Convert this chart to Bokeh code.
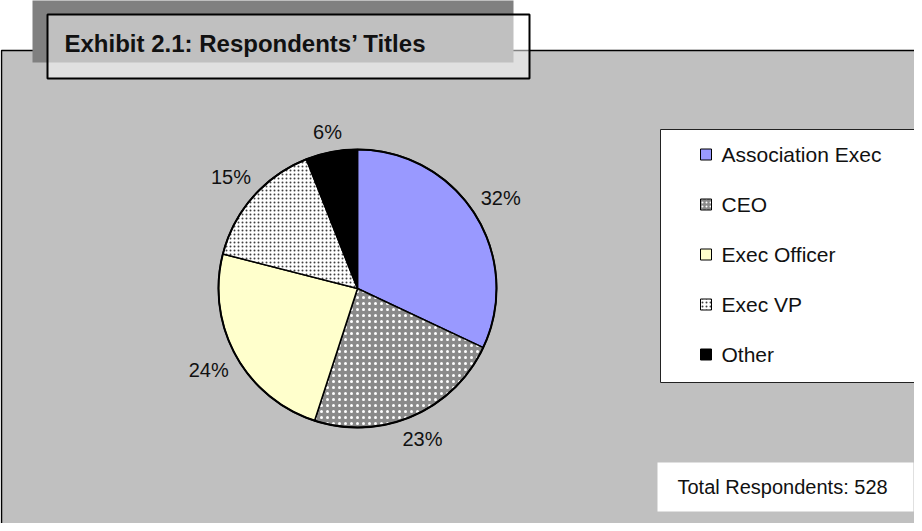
import math
from bokeh.plotting import figure
from bokeh.models import Range1d, ColumnDataSource
from bokeh.core.properties import value
from bokeh.embed import file_html
from bokeh.resources import INLINE

# ---- data ----
categories = ["Association Exec", "CEO", "Exec Officer", "Exec VP", "Other"]
percents = [32, 23, 24, 15, 6]
colors = ["#9999ff", "#8a8a8a", "#ffffcc", "#ffffff", "#000000"]
hatch_patterns = [" ", "dot", " ", "dot", " "]
hatch_colors = ["#000000", "#ffffff", "#000000", "#404040", "#000000"]
title_text = "Exhibit 2.1: Respondents\u2019 Titles"
total_text = "Total Respondents: 528"

W, H = 914, 523


def X(px):
    return px - 8


def Y(py):
    return 531 - py


p = figure(width=W, height=H, x_range=Range1d(0, W), y_range=Range1d(0, H),
           output_backend="svg", toolbar_location=None, min_border=0,
           x_axis_type=None, y_axis_type=None, outline_line_color=None,
           background_fill_color="white", border_fill_color="white")
p.grid.visible = False

# chart panel
p.quad(left=X(9), right=X(940), top=Y(58), bottom=Y(560), fill_color="#c0c0c0",
       line_color="black", line_width=1.5)

# title shadow + title box
p.quad(left=X(40), right=X(521), top=Y(6), bottom=Y(70), fill_color="#808080", line_color=None)
p.quad(left=X(55), right=X(537), top=Y(22), bottom=Y(86), fill_color="white", fill_alpha=0.5,
       line_color="black", line_width=2)
p.text(x=[X(72)], y=[Y(51)], text=[title_text], text_font=value("Liberation Sans"),
       text_font_style="bold", text_font_size="24px", text_baseline="middle",
       text_align="left", text_color="#111111")

# pie
cx, cy, R = X(365), Y(296), 139
total = sum(percents)
starts, ends, mids = [], [], []
c = 0.0
for v in percents:
    f0 = c / total
    c += v
    f1 = c / total
    starts.append(math.pi / 2 - 2 * math.pi * f0)
    ends.append(math.pi / 2 - 2 * math.pi * f1)
    mids.append((f0 + f1) / 2)

src = ColumnDataSource(dict(start=starts, end=ends, color=colors, hp=hatch_patterns,
                            hc=hatch_colors, hs=[6, 6, 6, 4, 6]))
p.wedge(x=cx, y=cy, radius=R, start_angle="start", end_angle="end", direction="clock",
        fill_color="color", hatch_pattern="hp", hatch_color="hc", hatch_scale="hs",
        hatch_weight=1, line_color="black", line_width=1.5, source=src)
p.circle(x=[cx], y=[cy], radius=R, fill_color=None, line_color="black", line_width=2)

# data labels
lx, ly, lt = [], [], []
for v, m in zip(percents, mids):
    th = 2 * math.pi * m
    sx, sy = math.sin(th), math.cos(th)
    r = R + 8 + 21 * abs(sx) + 9 * abs(sy)
    lx.append(cx + r * sx)
    ly.append(cy + r * sy)
    lt.append(f"{v}%")
p.text(x=lx, y=ly, text=lt, text_font=value("Liberation Sans"), text_font_size="20px",
       text_align="center", text_baseline="middle", text_color="#111111")

# legend
p.quad(left=X(668), right=X(940), top=Y(137), bottom=Y(390), fill_color="white",
       line_color="#222222", line_width=1)
rows = [Y(162 + 50 * i) for i in range(len(categories))]
lsrc = ColumnDataSource(dict(x=[X(713.5)] * len(categories), y=rows, color=colors,
                             hp=hatch_patterns, hc=hatch_colors, name=categories,
                             tx=[X(729)] * len(categories)))
p.rect(x="x", y="y", width=11, height=11, fill_color="color", hatch_pattern="hp",
       hatch_color="hc", hatch_scale=4, hatch_weight=1, line_color="black", line_width=1,
       source=lsrc)
p.text(x="tx", y="y", text="name", text_font=value("Liberation Sans"), text_font_size="21px",
       text_baseline="middle", text_align="left", text_color="#111111", source=lsrc)

# total respondents box
p.quad(left=X(665), right=X(921), top=Y(470), bottom=Y(519), fill_color="white", line_color=None)
p.text(x=[X(685)], y=[Y(494)], text=[total_text], text_font=value("Liberation Sans"),
       text_font_size="20px", text_baseline="middle", text_align="left", text_color="#111111")

open("out.html", "w").write(file_html(p, INLINE))
